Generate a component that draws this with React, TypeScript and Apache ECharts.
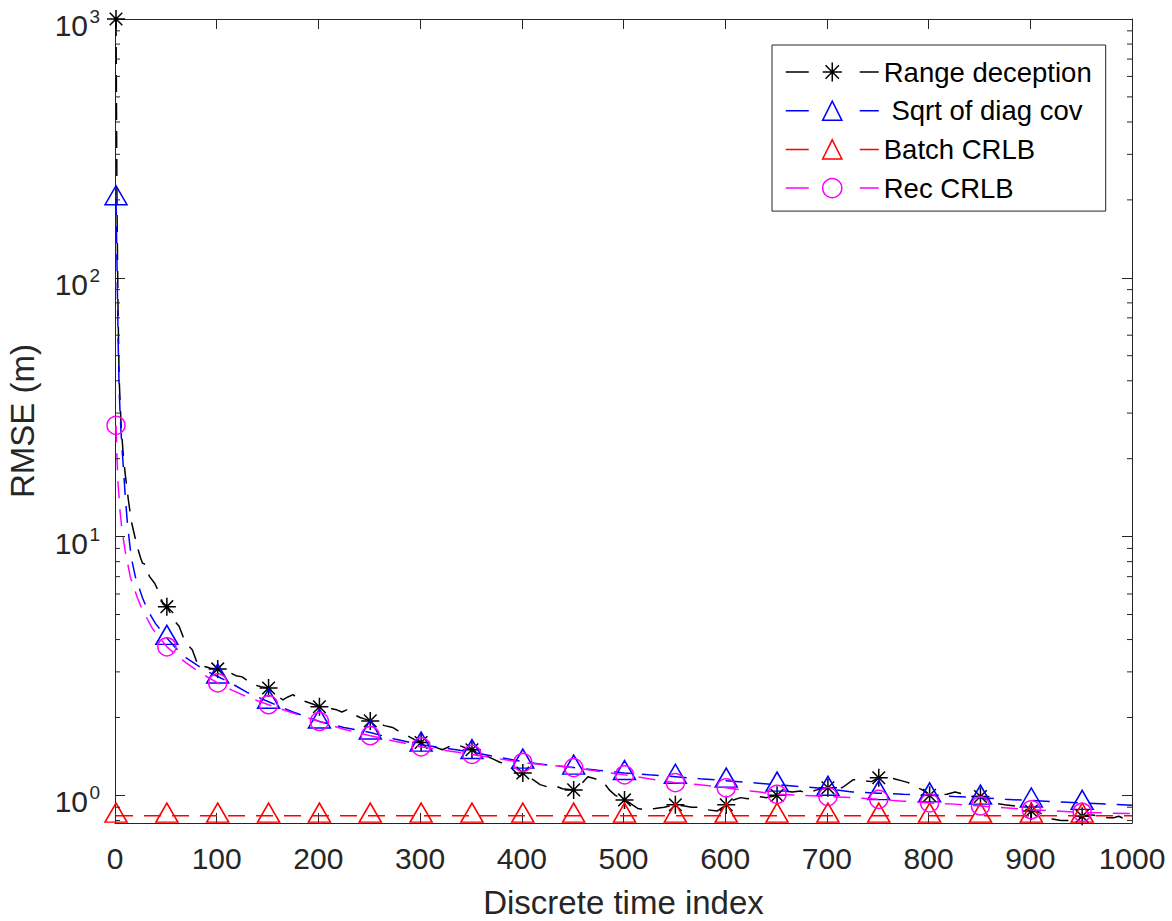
import React, { useEffect, useRef } from "react";
import * as echarts from "echarts";

// Range deception (noisy)
const rdX = [1, 2, 3, 4, 5, 6, 8, 10, 13, 16, 18, 22, 25, 27, 30, 34, 39, 44, 47, 51, 55, 59, 63, 67, 72, 76, 82, 88, 94, 101, 106, 113, 119, 125, 130, 135, 140, 145, 151, 158, 165, 170, 175, 181, 188, 195, 201, 208, 213, 218, 223, 228, 235, 241, 246, 251, 258, 265, 273, 278, 282, 290, 296, 301, 307, 314, 322, 328, 333, 340, 346, 351, 358, 365, 372, 379, 386, 392, 398, 401, 405, 411, 418, 428, 435, 440, 451, 458, 465, 472, 480, 486, 492, 501, 507, 514, 520, 531, 540, 551, 560, 567, 573, 582, 592, 601, 608, 615, 622, 632, 641, 651, 658, 666, 674, 680, 690, 701, 709, 715, 726, 735, 744, 751, 759, 766, 773, 780, 787, 794, 801, 806, 811, 818, 826, 835, 843, 851, 858, 866, 875, 885, 891, 897, 901, 908, 916, 922, 930, 936, 942, 951, 957, 961, 968, 976, 982, 987, 993, 1000];
const rdY = [1000, 180, 75, 42, 33, 27, 21, 17.5, 14, 11.5, 10.6, 9.1, 8.3, 7.9, 7.8, 7.0, 6.6, 6.0, 5.5, 5.36, 5.0, 4.7, 4.5, 4.1, 3.8, 3.65, 3.15, 3.15, 3.1, 3.08, 3.05, 2.98, 2.9, 2.87, 2.78, 2.72, 2.65, 2.62, 2.6, 2.45, 2.34, 2.4, 2.45, 2.35, 2.3, 2.25, 2.2, 2.15, 2.16, 2.14, 2.1, 2.14, 2.05, 2.0, 1.97, 1.94, 1.9, 1.86, 1.83, 1.78, 1.75, 1.68, 1.63, 1.6, 1.58, 1.54, 1.5, 1.54, 1.57, 1.55, 1.52, 1.5, 1.46, 1.42, 1.38, 1.34, 1.32, 1.25, 1.18, 1.22, 1.2, 1.15, 1.1, 1.07, 1.08, 1.06, 1.05, 1.1, 1.18, 1.16, 1.13, 1.05, 1.0, 0.96, 0.93, 0.89, 0.88, 0.89, 0.9, 0.92, 0.91, 0.9, 0.9, 0.88, 0.87, 0.92, 0.96, 0.98, 0.97, 0.99, 0.98, 1.0, 1.04, 1.03, 1.04, 1.02, 1.05, 1.07, 1.08, 1.07, 1.15, 1.14, 1.13, 1.17, 1.17, 1.16, 1.14, 1.12, 1.08, 1.05, 1.0, 1.01, 1.0, 1.01, 1.03, 1.01, 0.99, 0.99, 0.96, 0.93, 0.92, 0.91, 0.89, 0.88, 0.87, 0.86, 0.83, 0.81, 0.8, 0.8, 0.8, 0.83, 0.84, 0.84, 0.83, 0.82, 0.82, 0.83, 0.81, 0.79];

// Sqrt of diag cov
const sdX = [1, 2, 3, 4, 5, 6, 8, 10, 12, 14, 16, 20, 27, 32, 40, 44, 51, 60, 70, 80, 90, 101, 115, 130, 151, 175, 201, 225, 251, 275, 301, 325, 351, 375, 401, 425, 451, 475, 501, 525, 551, 575, 601, 625, 651, 675, 701, 725, 751, 775, 801, 825, 851, 875, 901, 925, 951, 975, 1000];
const sdY = [203, 110, 60, 38, 30, 25, 19, 14.5, 11.5, 9.7, 8.3, 7.0, 5.8, 5.2, 4.6, 4.4, 4.06, 3.7, 3.4, 3.2, 3.02, 2.88, 2.7, 2.5, 2.3, 2.1, 1.93, 1.83, 1.75, 1.65, 1.57, 1.52, 1.47, 1.41, 1.35, 1.31, 1.28, 1.25, 1.22, 1.2, 1.18, 1.16, 1.14, 1.12, 1.1, 1.08, 1.06, 1.03, 1.02, 1.01, 1.0, 0.99, 0.98, 0.965, 0.955, 0.945, 0.935, 0.925, 0.915];

// Batch CRLB
const bcX = [1, 51, 101, 151, 201, 251, 301, 351, 401, 451, 501, 551, 601, 651, 701, 751, 801, 851, 901, 951, 1000];
const bcY = [0.835, 0.835, 0.835, 0.835, 0.835, 0.835, 0.835, 0.835, 0.835, 0.835, 0.835, 0.835, 0.835, 0.835, 0.835, 0.835, 0.835, 0.835, 0.835, 0.835, 0.835];

// Rec CRLB
const rcX = [1, 2, 3, 5, 7, 10, 15, 22, 27, 37, 51, 60, 70, 80, 90, 101, 115, 130, 151, 175, 201, 225, 251, 275, 301, 325, 351, 375, 401, 425, 451, 475, 501, 525, 551, 575, 601, 625, 651, 675, 701, 725, 751, 775, 801, 825, 851, 875, 901, 925, 951, 975, 1000];
const rcY = [26.9, 20, 16, 12.5, 10.5, 8.8, 7.0, 5.8, 5.2, 4.4, 3.75, 3.5, 3.25, 3.05, 2.88, 2.72, 2.55, 2.4, 2.24, 2.08, 1.93, 1.8, 1.7, 1.62, 1.54, 1.49, 1.44, 1.39, 1.34, 1.31, 1.28, 1.24, 1.2, 1.16, 1.12, 1.1, 1.07, 1.04, 1.01, 1.0, 0.99, 0.98, 0.965, 0.95, 0.935, 0.925, 0.91, 0.895, 0.88, 0.87, 0.86, 0.855, 0.85];

// x positions of the markers
const markerX = [1, 51, 101, 151, 201, 251, 301, 351, 401, 451, 501, 551, 601, 651, 701, 751, 801, 851, 901, 951];

// log-axis minor tick values
const minorTicks = [0.8, 0.9, 2, 3, 4, 5, 6, 7, 8, 9, 20, 30, 40, 50, 60, 70, 80, 90, 200, 300, 400, 500, 600, 700, 800, 900];

const seriesNames = ["Range deception", " Sqrt of diag cov", "Batch CRLB", "Rec CRLB"];

const FONT = "'Liberation Sans', Arial, Helvetica, sans-serif";
const AX = "#262626";
const STAR = "path://M10 0L10 20M0 10L20 10M3 3L17 17M3 17L17 3";
const DASH = [17, 11];
const Y_MIN = 0.782;
const Y_MAX = 1000;

function buildData(xs: number[], ys: number[]) {
  const m = new Set(markerX);
  return xs.map((x, i) => (m.has(x) ? { value: [x, ys[i]] } : { value: [x, ys[i]], symbol: "none" }));
}

function expOf(v: number): number | null {
  const l = Math.log10(v);
  const e = Math.round(l);
  return Math.abs(l - e) < 1e-6 ? e : null;
}

export default function App() {
  const ref = useRef<HTMLDivElement>(null);
  useEffect(() => {
    if (!ref.current) return;
    const chart = echarts.init(ref.current, null, { renderer: "svg" });
    const axisLine = { show: true, onZero: false, lineStyle: { color: AX, width: 1 } };
    const axisTick = { show: true, inside: true, length: 10, lineStyle: { color: AX, width: 1 } };
    const lineSeries = (name: string, xs: number[], ys: number[], color: string, symbol: string, size: any, offset: any, z: number) => ({
      name,
      type: "line",
      data: buildData(xs, ys),
      symbol,
      symbolSize: size,
      symbolOffset: offset,
      showSymbol: true,
      lineStyle: { color, width: 1.5, type: DASH },
      itemStyle: { color: "rgba(0,0,0,0)", borderColor: color, borderWidth: 1.5 },
      emphasis: { disabled: true },
      z,
    });
    const legendItem = (name: string, color: string) => ({
      name,
      lineStyle: { color, width: 1.5, type: [23, 51] },
      itemStyle: { color: "rgba(0,0,0,0)", borderColor: color, borderWidth: 1.5 },
    });
    chart.setOption({
      animation: false,
      backgroundColor: "#fff",
      grid: { left: 115, right: 40, top: 19, bottom: 98, containLabel: false, outerBoundsMode: "none" },
      legend: {
        orient: "vertical",
        left: 772,
        top: 45,
        padding: [13, 14, 9, 13],
        itemWidth: 93,
        itemHeight: 24,
        itemGap: 10.7,
        selectedMode: false,
        backgroundColor: "#fff",
        borderColor: AX,
        borderWidth: 1,
        borderRadius: 0,
        textStyle: { fontSize: 27.5, color: "#000", fontFamily: FONT },
        data: [
          legendItem(seriesNames[0], "#000"),
          legendItem(seriesNames[1], "#0000ff"),
          legendItem(seriesNames[2], "#ff0000"),
          legendItem(seriesNames[3], "#ff00ff"),
        ],
      },
      xAxis: [
        {
          type: "value",
          min: 0,
          max: 1000,
          interval: 100,
          position: "bottom",
          axisLine,
          axisTick,
          splitLine: { show: false },
          axisLabel: { fontSize: 30, color: AX, fontFamily: FONT, margin: 20, formatter: (v: number) => String(v) },
          name: "Discrete time index",
          nameLocation: "middle",
          nameGap: 63,
          nameTextStyle: { fontSize: 33, color: AX, fontFamily: FONT },
        },
        {
          type: "value",
          min: 0,
          max: 1000,
          interval: 100,
          position: "top",
          axisLine,
          axisTick,
          splitLine: { show: false },
          axisLabel: { show: false },
        },
      ],
      yAxis: [
        {
          type: "log",
          logBase: 10,
          min: Y_MIN,
          max: Y_MAX,
          position: "left",
          axisLine,
          axisTick,
          splitLine: { show: false },
          minorTick: { show: false },
          axisLabel: {
            showMinLabel: false,
            margin: 27,
            fontSize: 30,
            color: AX,
            fontFamily: FONT,
            verticalAlign: "top",
            lineHeight: 13,
            formatter: (v: number) => (expOf(v) === null ? "" : "10"),
          },
          name: "RMSE (m)",
          nameLocation: "middle",
          nameGap: 76,
          nameRotate: 90,
          nameTextStyle: { fontSize: 33, color: AX, fontFamily: FONT },
        },
        {
          type: "log",
          logBase: 10,
          min: Y_MIN,
          max: Y_MAX,
          position: "right",
          axisLine,
          axisTick,
          splitLine: { show: false },
          axisLabel: { show: false },
        },
        {
          type: "log",
          logBase: 10,
          min: Y_MIN,
          max: Y_MAX,
          position: "left",
          axisLine: { show: false },
          axisTick: { show: false },
          splitLine: { show: false },
          axisLabel: {
            showMinLabel: false,
            margin: 15,
            fontSize: 19,
            color: AX,
            fontFamily: FONT,
            verticalAlign: "bottom",
            lineHeight: 5,
            formatter: (v: number) => {
              const e = expOf(v);
              return e === null ? "" : String(e);
            },
          },
        },
      ],
      series: [
        lineSeries(seriesNames[0], rdX, rdY, "#000000", STAR, 18, [0, 0], 2),
        lineSeries(seriesNames[1], sdX, sdY, "#0000ff", "triangle", [22, 19], [0, -3], 3),
        lineSeries(seriesNames[2], bcX, bcY, "#ff0000", "triangle", [22, 19], [0, -3], 4),
        lineSeries(seriesNames[3], rcX, rcY, "#ff00ff", "circle", 18, [0, 0], 5),
        {
          type: "custom",
          silent: true,
          clip: false,
          z: 10,
          xAxisIndex: 0,
          yAxisIndex: 0,
          data: minorTicks.map((v) => [0, v]),
          encode: { x: 0, y: 1 },
          renderItem: (params: any, api: any) => {
            const v = api.value(1);
            const pL = api.coord([0, v]);
            const pR = api.coord([1000, v]);
            return {
              type: "group",
              children: [
                { type: "line", shape: { x1: pL[0], y1: pL[1], x2: pL[0] + 5, y2: pL[1] }, style: { stroke: AX, lineWidth: 1 } },
                { type: "line", shape: { x1: pR[0], y1: pR[1], x2: pR[0] - 5, y2: pR[1] }, style: { stroke: AX, lineWidth: 1 } },
              ],
            };
          },
        },
      ],
    });
    return () => chart.dispose();
  }, []);
  return <div ref={ref} style={{ position: "fixed", left: 0, top: 0, width: 1172, height: 921 }} />;
}
